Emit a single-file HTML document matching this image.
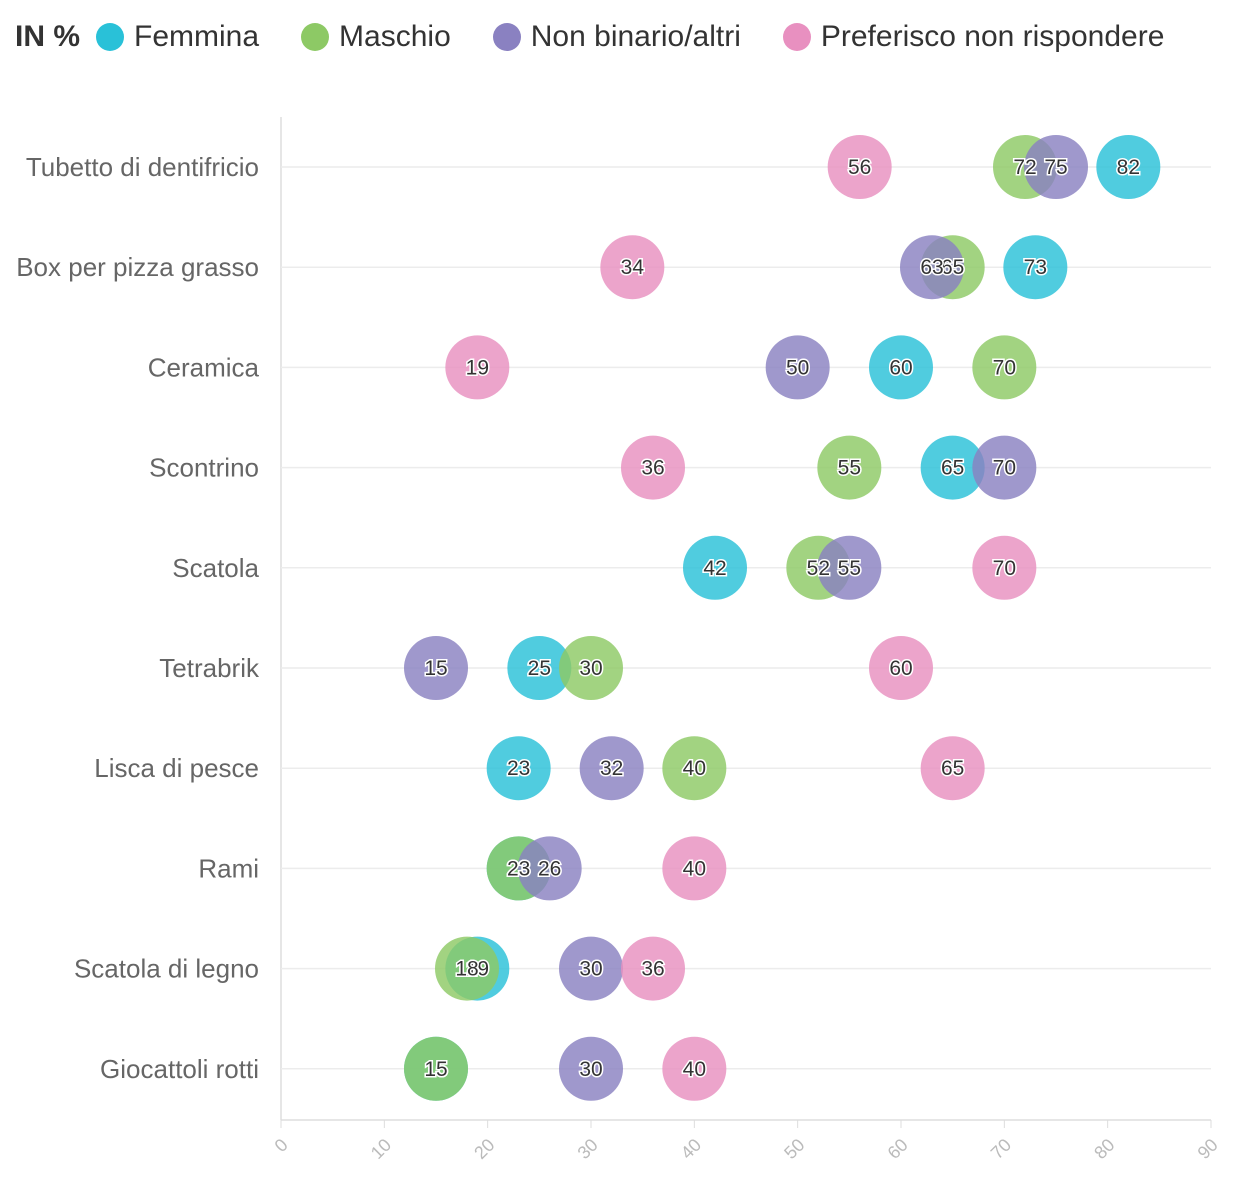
<!DOCTYPE html>
<html><head><meta charset="utf-8"><style>
body{margin:0;background:#fff;width:1250px;height:1200px;overflow:hidden;font-family:"Liberation Sans",sans-serif}
</style></head><body>
<div style="position:absolute;left:15px;top:20px;font-size:30px;color:#333;display:flex;align-items:center;white-space:nowrap">
<b style="margin-right:16px">IN %</b>
<span style="display:flex;align-items:center;margin-right:42px"><i style="width:28px;height:28px;border-radius:50%;background:#29c1d8;display:inline-block;margin-right:10px"></i>Femmina</span>
<span style="display:flex;align-items:center;margin-right:42px"><i style="width:28px;height:28px;border-radius:50%;background:#8dc965;display:inline-block;margin-right:10px"></i>Maschio</span>
<span style="display:flex;align-items:center;margin-right:42px"><i style="width:28px;height:28px;border-radius:50%;background:#8a81c1;display:inline-block;margin-right:10px"></i>Non binario/altri</span>
<span style="display:flex;align-items:center"><i style="width:28px;height:28px;border-radius:50%;background:#e890c0;display:inline-block;margin-right:10px"></i>Preferisco non rispondere</span>
</div>
<svg id="chart" width="1250" height="1200" style="position:absolute;left:0;top:0"></svg>
<script>
const categories=["Tubetto di dentifricio","Box per pizza grasso","Ceramica","Scontrino","Scatola","Tetrabrik","Lisca di pesce","Rami","Scatola di legno","Giocattoli rotti"];
const femmina=[82,73,60,65,42,25,23,23,19,15];
const maschio=[72,65,70,55,52,30,40,23,18,15];
const nonBinario=[75,63,50,70,55,15,32,26,30,30];
const preferisco=[56,34,19,36,70,60,65,40,36,40];
const ticks=[0,10,20,30,40,50,60,70,80,90];
const svg=document.getElementById('chart');
const NS='http://www.w3.org/2000/svg';
const x0=281,x1=1211,y0=167,dy=100.2;
const xs=v=>x0+(v/90)*(x1-x0);
const ys=i=>y0+i*dy;
function mk(t,a){const e=document.createElementNS(NS,t);for(const k in a)e.setAttribute(k,a[k]);svg.appendChild(e);return e;}
const ax=mk('line',{x1:x0,x2:x0,y1:117,y2:1120,stroke:'#ddd','stroke-width':1.5});


const bx=mk('line',{x1:x0,x2:x1,y1:1120,y2:1120,stroke:'#ddd','stroke-width':1.5});


ticks.forEach(t=>{
 const tl=mk('line',{x1:xs(t),x2:xs(t),y1:1120,y2:1128,stroke:'#ddd'});
 
 
 const tx=mk('text',{x:xs(t)+8,y:1146,'font-size':18,fill:'#bbb','text-anchor':'end',transform:`rotate(-45 ${xs(t)+8} 1146)`});
 tx.textContent=t;
 
 
});
categories.forEach((c,i)=>{
 const g=mk('line',{x1:x0,x2:x1,y1:ys(i),y2:ys(i),stroke:'#ececec','stroke-width':1.5});
 
 
 const t=mk('text',{x:259,y:ys(i)+9,'font-size':26,fill:'#666','text-anchor':'end'});
 t.textContent=c;
 
 
});
const series=[[femmina,'#29c1d8','femmina'],[maschio,'#8dc965','maschio'],[nonBinario,'#8a81c1','non-binario'],[preferisco,'#e890c0','preferisco']];
series.forEach(([vals,col,nm])=>{
 vals.forEach((v,i)=>{
  const c=mk('circle',{cx:xs(v),cy:ys(i),r:32,fill:col,'fill-opacity':0.82});
  
  
 });
});
series.forEach(([vals,col,nm])=>{
 vals.forEach((v,i)=>{
  const t=mk('text',{x:xs(v),y:ys(i)+7,'font-size':21,fill:'#333','text-anchor':'middle',stroke:'#fff','stroke-width':3,'paint-order':'stroke'});
  t.textContent=v;
  
  
 });
});
</script>
</body></html>
